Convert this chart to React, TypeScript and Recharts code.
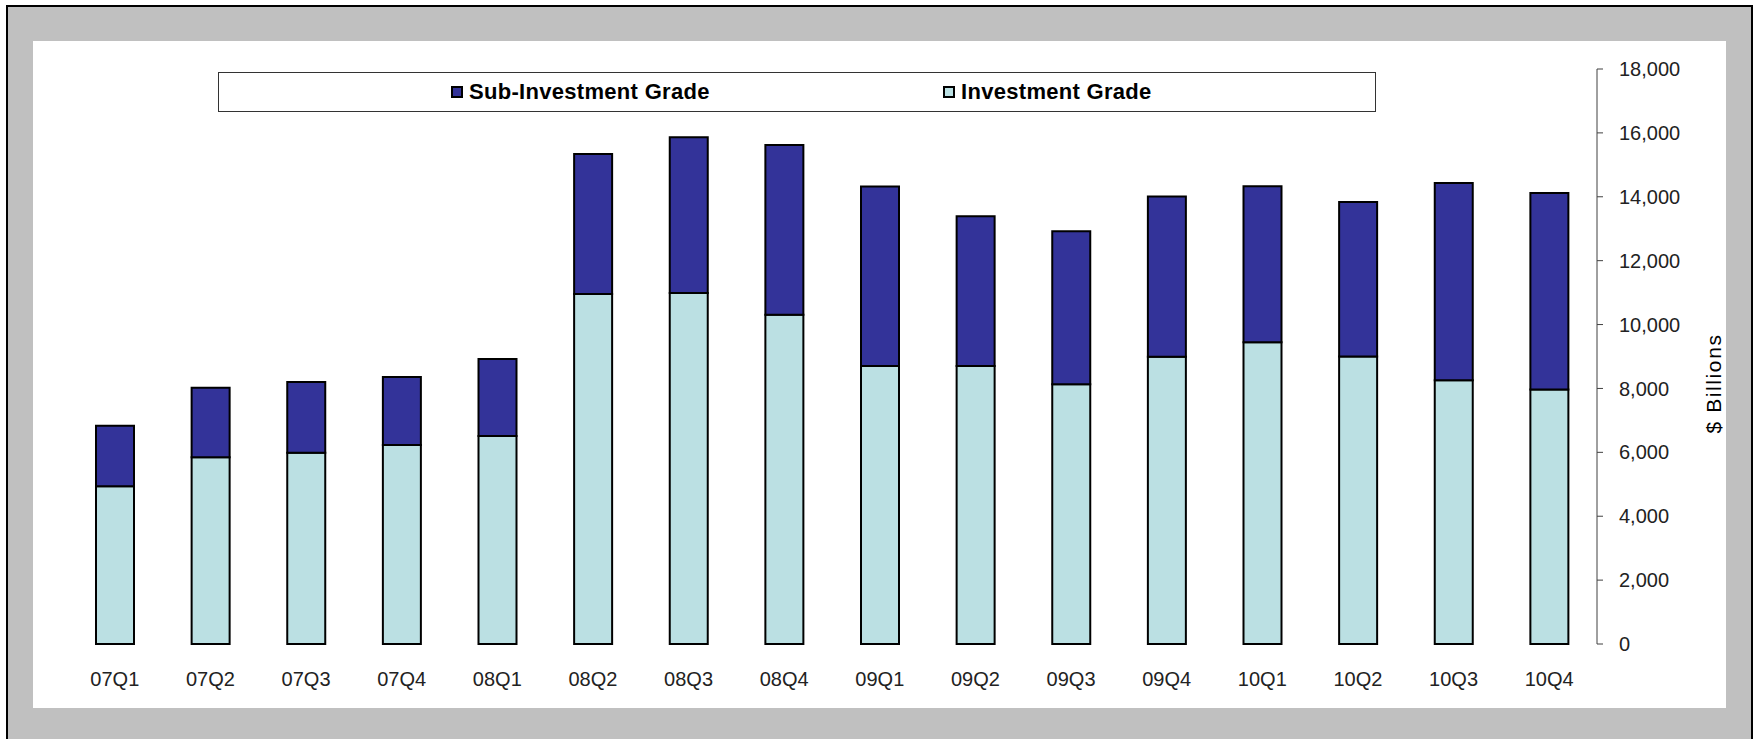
import { BarChart, Bar, XAxis, YAxis, Legend } from 'recharts';

const QUARTERS = [
  '07Q1', '07Q2', '07Q3', '07Q4', '08Q1', '08Q2', '08Q3', '08Q4',
  '09Q1', '09Q2', '09Q3', '09Q4', '10Q1', '10Q2', '10Q3', '10Q4',
];
// $ Billions
const INVESTMENT_GRADE = [
  4940, 5850, 5990, 6230, 6510, 10960, 10990, 10310,
  8700, 8700, 8130, 8990, 9450, 9000, 8260, 7970,
];
const SUB_INVESTMENT_GRADE = [
  1890, 2170, 2210, 2130, 2410, 4380, 4870, 5310,
  5620, 4690, 4790, 5020, 4880, 4840, 6170, 6150,
];
const Y_TICKS = [0, 2000, 4000, 6000, 8000, 10000, 12000, 14000, 16000, 18000];

// tick marks sit between the categories, like the original Excel axis
const BOUNDARIES = [...QUARTERS.map((_, i) => i), QUARTERS.length];

const data = QUARTERS.map((q, i) => ({
  quarter: q,
  'Investment Grade': INVESTMENT_GRADE[i],
  'Sub-Investment Grade': SUB_INVESTMENT_GRADE[i],
}));

const FONT = '"Liberation Sans", Arial, sans-serif';
const AXIS = '#404040';

function LegendBox(props: any) {
  const items = [...(props.payload || [])].reverse();
  const lefts = [232, 724];
  return (
    <div style={{
      position: 'relative', boxSizing: 'border-box', width: '100%', height: '100%',
      border: '1px solid #333', background: '#fff',
    }}>
      {items.map((it: any, i: number) => (
        <div key={it.value} style={{
          position: 'absolute', left: lefts[i], top: 0, bottom: 0,
          display: 'flex', alignItems: 'center',
        }}>
          <span style={{
            display: 'inline-block', width: 12, height: 12, boxSizing: 'border-box',
            border: '2px solid #000', background: it.color, marginRight: 6,
          }} />
          <span style={{ fontFamily: FONT, fontWeight: 'bold', fontSize: 22, letterSpacing: 0.3, color: '#000' }}>
            {it.value}
          </span>
        </div>
      ))}
    </div>
  );
}

function YLabel(props: any) {
  const vb = props.viewBox;
  const cx = vb.x + vb.width + 6;
  const cy = vb.y + vb.height / 2 + 27;
  return (
    <text x={cx} y={cy} transform={`rotate(-90, ${cx}, ${cy})`} textAnchor="middle"
      dominantBaseline="central" fontFamily={FONT} fontSize={21} letterSpacing={1.6} fill="#000">
      $ Billions
    </text>
  );
}

export default function App() {
  return (
    <div style={{ position: 'absolute', left: 0, top: 0, width: 1756, height: 739, background: '#fff', overflow: 'hidden' }}>
      <div style={{
        position: 'absolute', left: 6, top: 5, width: 1747, height: 760, boxSizing: 'border-box',
        border: '2px solid #000', background: '#c0c0c0',
      }} />
      <div style={{ position: 'absolute', left: 33, top: 41, width: 1693, height: 667, background: '#fff' }}>
        <BarChart
          width={1693}
          height={667}
          data={data}
          margin={{ top: 28, left: 34, right: 19, bottom: 20 }}
          barSize={38}
          style={{ fontFamily: FONT }}
        >
          <XAxis
            xAxisId="bounds"
            type="number"
            domain={[0, QUARTERS.length]}
            ticks={BOUNDARIES}
            height={0}
            tickSize={7}
            tickFormatter={() => ''}
            stroke={AXIS}
            tickLine={{ stroke: AXIS }}
            axisLine={{ stroke: AXIS }}
          />
          <XAxis
            dataKey="quarter"
            height={44}
            tickLine={false}
            axisLine={false}
            tickSize={6}
            tickMargin={22}
            interval={0}
            tick={{ fill: '#222', fontSize: 20, fontFamily: FONT }}
          />
          <YAxis
            orientation="right"
            domain={[0, 18000]}
            ticks={Y_TICKS}
            width={110}
            tickSize={6}
            tickMargin={16}
            stroke={AXIS}
            tick={{ fill: '#222', fontSize: 20, fontFamily: FONT, textAnchor: 'start' }}
            tickFormatter={(v: number) => v.toLocaleString('en-US')}
            label={<YLabel />}
          />
          <Legend
            layout="vertical"
            align="center"
            verticalAlign="middle"
            wrapperStyle={{ top: 31, left: 185, width: 1158, height: 40 }}
            content={<LegendBox />}
          />
          <Bar dataKey="Investment Grade" stackId="a" fill="#bbe0e3" stroke="#000" strokeWidth={2} isAnimationActive={false} />
          <Bar dataKey="Sub-Investment Grade" stackId="a" fill="#333399" stroke="#000" strokeWidth={2} isAnimationActive={false} />
        </BarChart>
      </div>
    </div>
  );
}
